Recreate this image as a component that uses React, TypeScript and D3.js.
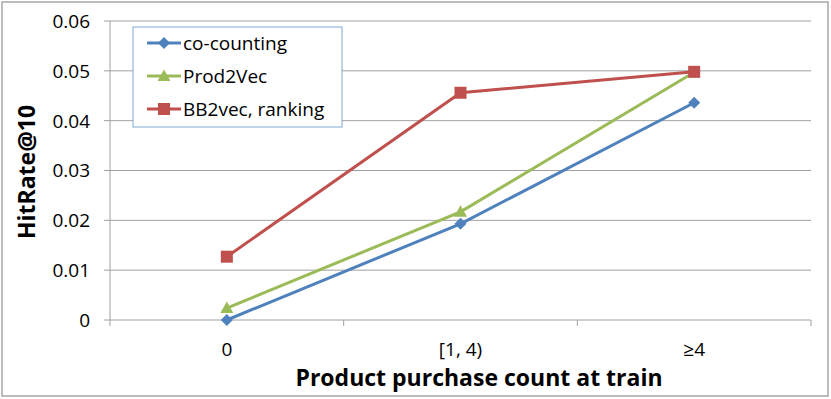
import React from "react";
import * as d3 from "d3";

const categories = ["0", "[1, 4)", "≥4"];
const seriesNames = ["co-counting", "Prod2Vec", "BB2vec, ranking"];
const coCounting = [0.0, 0.0193, 0.0436];
const prod2Vec = [0.0024, 0.0217, 0.0497];
const bb2vec = [0.0127, 0.0456, 0.0498];
const yTicks = [0, 0.01, 0.02, 0.03, 0.04, 0.05, 0.06];
const colors = ["#4f81bd", "#9bbb59", "#c0504d"];
const markers = ["diamond", "triangle", "square"];

const W = 831;
const H = 399;
const FONT = "'Open Sans', sans-serif";

function Marker({ kind, x, y, color }: { kind: string; x: number; y: number; color: string }) {
  if (kind === "diamond") {
    const r = 6;
    return <path d={`M${x},${y - r}L${x + r},${y}L${x},${y + r}L${x - r},${y}Z`} fill={color} />;
  }
  if (kind === "triangle") {
    const r = 6.5;
    return <path d={`M${x},${y - r}L${x + r},${y + r * 0.75}L${x - r},${y + r * 0.75}Z`} fill={color} />;
  }
  const s = 12;
  return <rect x={x - s / 2} y={y - s / 2} width={s} height={s} fill={color} />;
}

export default function App() {
  const left = 110, right = 811, top = 21, bottom = 320;
  const x = d3.scaleBand<string>().domain(categories).range([left, right]);
  const y = d3.scaleLinear().domain([0, 0.06]).range([bottom, top]);
  const cx = (c: string) => (x(c) as number) + x.bandwidth() / 2;
  const data = [coCounting, prod2Vec, bb2vec];
  const line = d3
    .line<number>()
    .x((_, i) => cx(categories[i]))
    .y((d) => y(d));
  const boundaries = [left, ...categories.map((c) => (x(c) as number) + x.bandwidth())];

  return (
    <svg width={W} height={H} style={{ position: "absolute", left: 0, top: 0, background: "#fff" }}>
      <rect x={2} y={2} width={826} height={394} fill="#fff" stroke="#a6a6a6" strokeWidth={1.5} />
      {yTicks.map((t) => (
        <g key={t}>
          {t !== 0 && <line x1={left} x2={right} y1={y(t)} y2={y(t)} stroke="#a0a0a0" strokeWidth={1} />}
          <line x1={104} x2={left} y1={y(t)} y2={y(t)} stroke="#a0a0a0" strokeWidth={1} />
          <text x={90} y={y(t)} dy="0.36em" textAnchor="end" fontFamily={FONT} fontSize={19} fill="#000">
            {t === 0 ? "0" : d3.format(".2f")(t)}
          </text>
        </g>
      ))}
      <line x1={left} x2={left} y1={top} y2={bottom} stroke="#a0a0a0" strokeWidth={1} />
      <line x1={left} x2={right} y1={bottom} y2={bottom} stroke="#a0a0a0" strokeWidth={1} />
      {boundaries.map((b, i) => (
        <line key={i} x1={b} x2={b} y1={bottom} y2={bottom + 6} stroke="#a0a0a0" strokeWidth={1} />
      ))}
      {categories.map((c) => (
        <text key={c} x={cx(c)} y={356} textAnchor="middle" fontFamily={FONT} fontSize={19} fill="#000">
          {c}
        </text>
      ))}
      {data.map((d, i) => (
        <g key={i}>
          <path d={line(d) as string} fill="none" stroke={colors[i]} strokeWidth={3} />
          {d.map((v, j) => (
            <Marker key={j} kind={markers[i]} x={cx(categories[j])} y={y(v)} color={colors[i]} />
          ))}
        </g>
      ))}
      <text x={479} y={386} textAnchor="middle" fontFamily={FONT} fontWeight="bold" fontSize={23} fill="#000">
        Product purchase count at train
      </text>
      <text
        transform={`translate(35, 172)rotate(-90)`}
        textAnchor="middle"
        fontFamily={FONT}
        fontWeight="bold"
        fontSize={23}
        fill="#000"
      >
        HitRate@10
      </text>
      <g>
        <rect x={133} y={27} width={209} height={100} fill="#fff" stroke="#7ea6d3" strokeWidth={1} />
        {seriesNames.map((n, i) => {
          const ly = 43 + i * 33;
          return (
            <g key={n}>
              <line x1={147} x2={181} y1={ly} y2={ly} stroke={colors[i]} strokeWidth={3} />
              <Marker kind={markers[i]} x={164} y={ly} color={colors[i]} />
              <text x={183} y={ly} dy="0.36em" fontFamily={FONT} fontSize={19} fill="#000">
                {n}
              </text>
            </g>
          );
        })}
      </g>
    </svg>
  );
}
